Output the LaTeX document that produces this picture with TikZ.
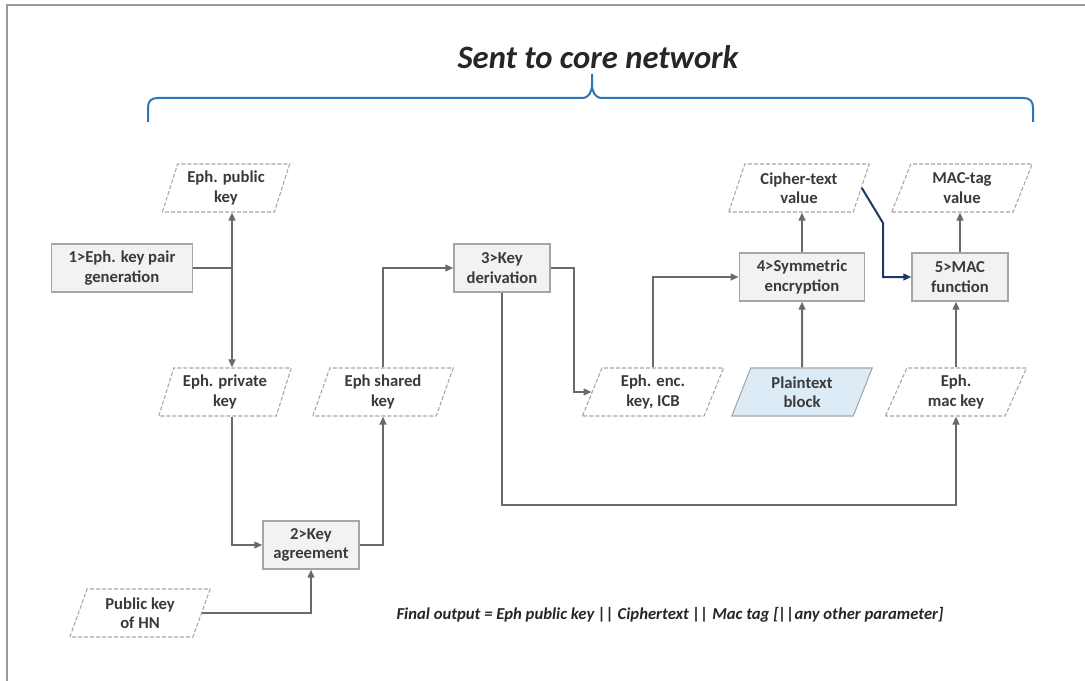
\documentclass[tikz,border=0pt]{standalone}
\usepackage{fontspec}
\setmainfont{Carlito}
\usetikzlibrary{arrows.meta,positioning,calc,shapes.geometric}

\definecolor{lngray}{HTML}{6A6A6A}
\definecolor{bxgray}{HTML}{A6A6A6}
\definecolor{bxfill}{HTML}{F2F2F2}
\definecolor{txtgray}{HTML}{3A3A3A}
\definecolor{navy}{HTML}{1F3864}
\definecolor{braceblue}{HTML}{2E75B6}
\definecolor{plainfill}{HTML}{DDEBF7}
\definecolor{framegray}{HTML}{9A9A9A}

\begin{document}
\begin{tikzpicture}[
  x=0.75pt, y=-0.75pt,
  box/.style={draw=bxgray, fill=bxfill, line width=1pt, minimum height=36pt,
              minimum width=72pt, font=\fontsize{12.5}{14.5}\selectfont\bfseries,
              text=txtgray, align=center, inner sep=1pt},
  para/.style={trapezium, trapezium left angle=70, trapezium right angle=110,
               trapezium stretches=true, draw=bxgray, dash pattern=on 3pt off 1.5pt,
               line width=0.8pt, fill=white, minimum height=36pt, minimum width=106pt,
               font=\fontsize{12.5}{14.5}\selectfont\bfseries, text=txtgray,
               align=center, inner sep=0pt},
  ar/.style={-{Triangle[length=6pt, width=5pt]}, line width=1.5pt, draw=lngray},
  ln/.style={line width=1.5pt, draw=lngray}
]
  \useasboundingbox (0,0) rectangle (1085,681);
  \draw[framegray, line width=1.5pt] (7,681) -- (7,5) -- (1085,5);

  % title and brace
  \node[font=\fontsize{24.5}{28}\selectfont\bfseries\itshape, text=black!85] (title)
    at (598,57) {Sent to core network};
  \draw[braceblue, line width=1.5pt]
    (148,122) -- (148,108) .. controls (148,101) and (151,98) .. (158,98)
    -- (582,98) .. controls (589,98) and (592,92) .. (592,84) -- (592,74)
    (592,84) .. controls (592,92) and (595,98) .. (602,98)
    -- (1023,98) .. controls (1030,98) and (1033,101) .. (1033,108) -- (1033,122);

  % nodes
  \node[para, minimum width=96pt] (pub)  at (226,188) {Eph. public\\key};
  \node[box, minimum width=106pt] (gen)  at (122,268) {1>Eph. key pair\\generation};
  \node[para, minimum width=100pt] (priv) at (225,392) {Eph. private\\key};
  \node[para] (shared) at (383,392) {Eph shared\\key};
  \node[box]  (kd)     at (502,268) {3>Key\\derivation};
  \node[box]  (agree)  at (311,545) {2>Key\\agreement};
  \node[para] (hn)     at (140,613) {Public key\\of HN};
  \node[para] (enc)    at (653,392) {Eph. enc.\\key, ICB};
  \node[para] (cipher) at (799,188) {Cipher-text\\value};
  \node[box, minimum width=94pt] (sym) at (802,277) {4>Symmetric\\encryption};
  \node[para, fill=plainfill, draw=bxgray, solid] (plain) at (802,392) {Plaintext\\block};
  \node[para] (mactag) at (962,188) {MAC-tag\\value};
  \node[box]  (mac)    at (960,277) {5>MAC\\function};
  \node[para] (mackey) at (956,392) {Eph.\\mac key};

  \node[font=\fontsize{12.5}{15}\selectfont\bfseries\itshape, text=black!85] (final)
    at (670,615) {Final output = Eph public key || Ciphertext || Mac tag [||any other parameter]};

  % connectors
  \coordinate (split) at (232,268);
  \coordinate (low)   at (502,505);
  \coordinate (bend)  at (883,223);
  \draw[ln] (gen.east) -- (split);
  \draw[ar] (split) -- (split |- pub.south);
  \draw[ar] (split) -- (split |- priv.north);
  \draw[ar] (split |- priv.south) |- (agree.west);
  \draw[ar] (agree.east) -| (shared.south);
  \draw[ar] (hn.east) -| (agree.south);
  \draw[ar] (shared.north) |- (kd.west);
  \draw[ar] (kd.east) -- ++(23,0) |- (enc.west);
  \draw[ar] (enc.north) |- (sym.west);
  \draw[ar] (plain.north) -- (sym.south);
  \draw[ar] (sym.north) -- (sym.north |- cipher.south);
  \draw[ar] (kd.south) -- (kd.south |- low) -| (mackey.south);
  \draw[ar] (mackey.north) -- (mackey.north |- mac.south);
  \draw[ar] (mac.north) -- (mac.north |- mactag.south);
  \draw[-{Triangle[length=6pt, width=5pt]}, line width=1.5pt, navy]
    (cipher.east) -- (bend) -- (bend |- mac.west) -- (mac.west);
\end{tikzpicture}
\end{document}
